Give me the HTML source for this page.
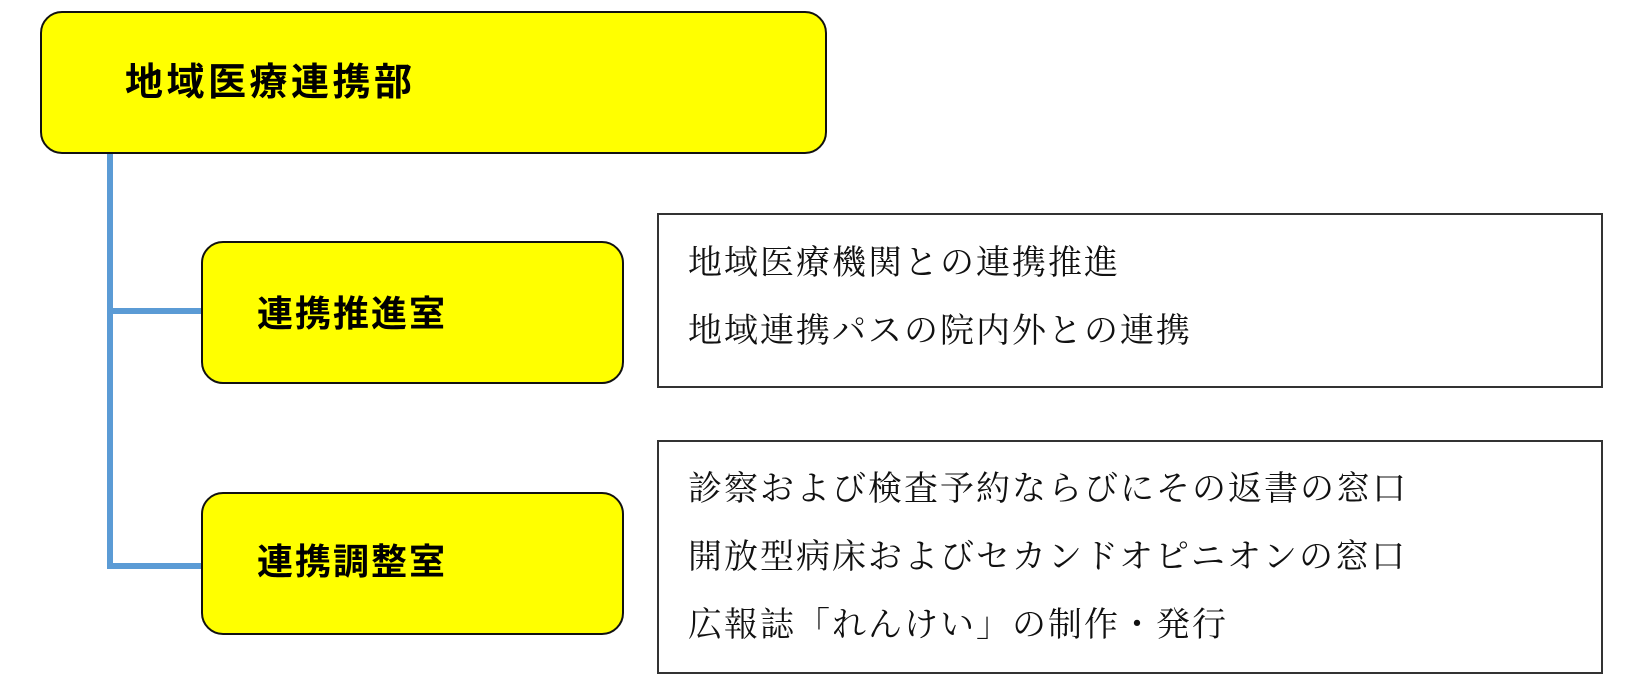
<!DOCTYPE html>
<html><head><meta charset="utf-8"><style>
body{margin:0;width:1635px;height:683px;background:#fff;position:relative;overflow:hidden;font-family:"Liberation Sans","Noto Sans CJK JP",sans-serif}
.y{position:absolute;background:#ffff00;border:2px solid #111;border-radius:22px;box-sizing:border-box}
.t{position:absolute;font-weight:bold;color:#000;white-space:nowrap;line-height:1}
.r{position:absolute;border:2px solid #333;box-sizing:border-box;background:#fff}
.l{position:absolute;font-family:"Liberation Serif","Noto Serif CJK SC",serif;font-size:34px;line-height:1;white-space:nowrap;color:#111;letter-spacing:2px}
.b{position:absolute;background:#5b9bd5}
</style></head><body>
<div class="b" style="left:107px;top:152px;width:6px;height:417px"></div>
<div class="b" style="left:107px;top:308px;width:96px;height:6px"></div>
<div class="b" style="left:107px;top:563px;width:96px;height:6px"></div>
<div class="y" style="left:40px;top:11px;width:787px;height:143px"></div>
<div class="t" style="left:125px;top:64px;font-size:38px;letter-spacing:3.5px">地域医療連携部</div>
<div class="y" style="left:201px;top:241px;width:423px;height:143px"></div>
<div class="t" style="left:257px;top:296px;font-size:36px;letter-spacing:2px">連携推進室</div>
<div class="y" style="left:201px;top:492px;width:423px;height:143px"></div>
<div class="t" style="left:257px;top:544px;font-size:36px;letter-spacing:2px">連携調整室</div>
<div class="r" style="left:657px;top:213px;width:946px;height:175px"></div>
<div class="l" style="left:688px;top:247px">地域医療機関との連携推進</div>
<div class="l" style="left:688px;top:315px">地域連携パスの院内外との連携</div>
<div class="r" style="left:657px;top:440px;width:946px;height:234px"></div>
<div class="l" style="left:688px;top:473px">診察および検査予約ならびにその返書の窓口</div>
<div class="l" style="left:688px;top:541px">開放型病床およびセカンドオピニオンの窓口</div>
<div class="l" style="left:688px;top:609px">広報誌「れんけい」の制作・発行</div>
</body></html>
